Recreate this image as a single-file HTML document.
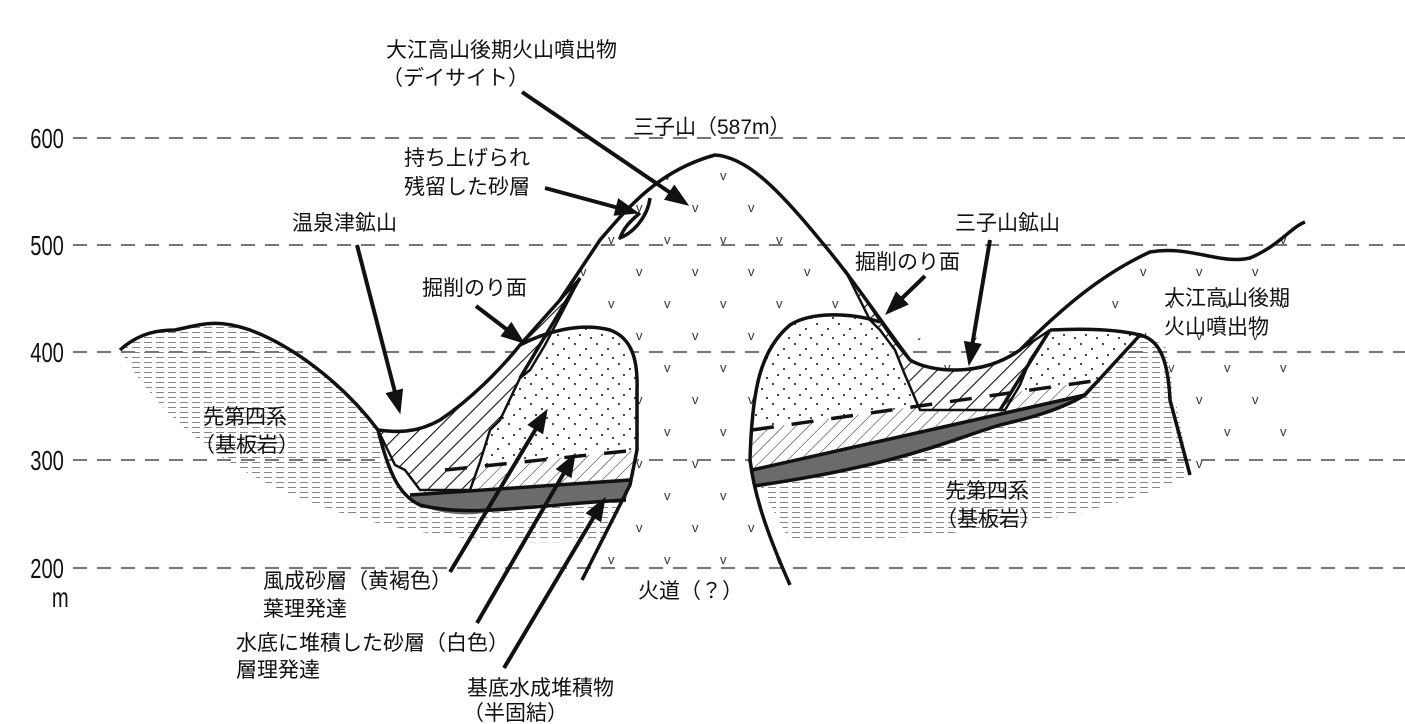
<!DOCTYPE html>
<html><head><meta charset="utf-8"><style>
html,body{margin:0;padding:0;background:#fff}
svg{display:block}
text{font-family:"Liberation Sans","Noto Sans CJK JP",sans-serif;fill:#111}
</style></head><body>
<svg width="1405" height="724" viewBox="0 0 1405 724" xmlns="http://www.w3.org/2000/svg">
<defs>
<pattern id="bas" width="12" height="5" patternUnits="userSpaceOnUse">
<line x1="0" y1="2.5" x2="8" y2="2.5" stroke="#777" stroke-width="0.9"/>
</pattern>
<pattern id="vv" width="56" height="64" patternUnits="userSpaceOnUse" x="10" y="0">
<text x="10" y="20" font-size="13" style="fill:#333">v</text>
<text x="38" y="52" font-size="13" style="fill:#333">v</text>
</pattern>
<pattern id="dots" width="22" height="20" patternUnits="userSpaceOnUse">
<circle cx="3" cy="4" r="1.1" fill="#333"/><circle cx="14" cy="9" r="1.1" fill="#333"/>
<circle cx="8" cy="15" r="1.1" fill="#333"/><circle cx="19" cy="18" r="1.1" fill="#333"/>
</pattern>
<pattern id="thin" width="9" height="9" patternUnits="userSpaceOnUse" patternTransform="rotate(45)">
<line x1="0" y1="0" x2="0" y2="9" stroke="#222" stroke-width="1"/>
</pattern>
<pattern id="thick" width="12" height="12" patternUnits="userSpaceOnUse" patternTransform="rotate(45)">
<line x1="0" y1="0" x2="0" y2="12" stroke="#111" stroke-width="2.2"/>
</pattern>
</defs>

<g stroke="#777" stroke-width="2" stroke-dasharray="14,10">
<line x1="73" y1="138" x2="1405" y2="138"/>
<line x1="73" y1="245" x2="1405" y2="245"/>
<line x1="73" y1="352" x2="1405" y2="352"/>
<line x1="73" y1="460" x2="1405" y2="460"/>
<line x1="73" y1="568" x2="1405" y2="568"/>
</g>
<g font-size="28" transform="scale(0.72,1)">
<text x="42" y="148">600</text><text x="42" y="255">500</text>
<text x="42" y="362">400</text><text x="42" y="470">300</text>
<text x="42" y="578">200</text><text x="72" y="607">m</text>
</g>

<path d="M520,345 L560,300 L600,240 C630,205 660,170 715,155 C745,157 775,185 820,240 C850,275 880,320 910,360 C930,372 980,378 1020,350 C1060,310 1100,275 1150,252 C1190,245 1220,265 1250,258 C1280,245 1290,228 1305,222 L1300,450 L1190,475 L1165,345 L1140,335 L800,340 L760,500 L790,585 L580,585 L625,480 L637,360 Z" fill="url(#vv)"/>

<path d="M120,350 C140,332 160,330 175,330 C200,325 215,318 250,330 C290,345 340,380 378,430 C388,470 398,495 420,505 C470,518 530,505 625,500 L605,540 C450,552 220,520 120,350 Z" fill="url(#bas)"/>
<path d="M752,470 L1080,395 L1140,335 L1165,345 L1190,475 C1100,520 950,540 790,542 Z" fill="url(#bas)"/>

<path d="M520,345 C545,332 580,322 610,330 C632,338 638,360 637,390 L637,450 L440,470 L480,420 Z" fill="#fff"/>
<path d="M520,345 C545,332 580,322 610,330 C632,338 638,360 637,390 L637,450 L440,470 L480,420 Z" fill="url(#dots)"/>
<path d="M440,470 L637,450 L630,480 L410,495 Z" fill="#fff"/>
<path d="M440,470 L637,450 L630,480 L410,495 Z" fill="url(#thin)"/>
<path d="M410,495 L630,480 L626,500 C560,502 520,505 490,512 C460,518 430,512 410,500 Z" fill="#6b6b6b"/>

<path d="M752,430 C752,390 760,350 790,325 C810,312 850,312 868,318 L880,320 C892,340 900,352 910,360 C930,372 980,378 1020,350 L1050,330 C1090,328 1120,330 1140,335 L1100,380 Z" fill="#fff"/>
<path d="M752,430 C752,390 760,350 790,325 C810,312 850,312 868,318 L880,320 C892,340 900,352 910,360 C930,372 980,378 1020,350 L1050,330 C1090,328 1120,330 1140,335 L1100,380 Z" fill="url(#dots)"/>
<path d="M752,430 L1100,380 L1085,395 L752,470 Z" fill="#fff"/>
<path d="M752,430 L1100,380 L1085,395 L752,470 Z" fill="url(#thin)"/>
<path d="M752,470 L1085,395 C1060,410 1030,418 1000,425 C950,440 900,465 754,486 Z" fill="#6b6b6b"/>

<path d="M378,430 C395,432 415,434 440,420 C470,400 500,370 520,345 L580,278 L545,345 L530,370 L520,378 L500,420 L490,430 L480,462 L470,490 L420,490 L405,470 L395,465 Z" fill="#fff"/>
<path d="M378,430 C395,432 415,434 440,420 C470,400 500,370 520,345 L580,278 L545,345 L530,370 L520,378 L500,420 L490,430 L480,462 L470,490 L420,490 L405,470 L395,465 Z" fill="url(#thick)" stroke="#111" stroke-width="2.5"/>
<path d="M845,270 C870,305 895,345 910,360 C930,372 980,378 1020,350 L1050,330 L1030,360 L1020,385 L1005,410 L920,410 L905,375 L895,350 L880,330 L870,320 Z" fill="#fff"/>
<path d="M845,270 C870,305 895,345 910,360 C930,372 980,378 1020,350 L1050,330 L1030,360 L1020,385 L1005,410 L920,410 L905,375 L895,350 L880,330 L870,320 Z" fill="url(#thick)" stroke="#111" stroke-width="2.5"/>

<g stroke="#111" stroke-width="3.5" stroke-dasharray="22,18" fill="none">
<path d="M445,470 L637,450"/>
<path d="M752,430 L1100,380"/>
</g>

<g fill="none" stroke="#111" stroke-width="3.5" stroke-linejoin="round">
<path d="M120,350 C140,332 160,330 175,330 C200,325 215,318 250,330 C290,345 340,380 378,430 C395,432 415,434 440,420 C470,400 500,370 520,345 L560,300 L600,240 C630,205 660,170 715,155 C745,157 775,185 820,240 C850,275 880,320 910,360 C930,372 980,378 1020,350 C1060,310 1100,275 1150,252 C1190,245 1220,265 1250,258 C1280,245 1290,228 1305,222"/>
<path d="M378,430 C388,470 398,495 420,505 C470,518 530,505 626,500"/>
<path d="M410,495 L630,480"/>
<path d="M520,345 C545,332 580,322 610,330 C632,338 638,360 637,390 L637,450 L630,485 L582,580"/>
<path d="M880,322 C850,312 810,312 790,325 C760,350 752,390 750,460 C755,500 770,540 790,585"/>
<path d="M752,470 L1085,395"/>
<path d="M754,486 C900,465 950,440 1000,425 C1030,418 1060,410 1085,395 L1140,335"/>
<path d="M1050,330 C1090,328 1120,330 1140,335 C1160,340 1168,360 1170,400 L1190,475"/>
<path d="M1050,330 L1000,410"/>
<path d="M580,278 L520,378"/>
<path d="M640,213 C625,225 622,233 620,238 C635,232 648,215 650,198"/>
</g>

<g stroke="#111" stroke-width="4" fill="none">
<line x1="522" y1="92" x2="678" y2="198"/>
<line x1="545" y1="188" x2="626" y2="210"/>
<line x1="357" y1="245" x2="397" y2="400"/>
<line x1="476" y1="306" x2="514" y2="335"/>
<line x1="990" y1="240" x2="971" y2="352"/>
<line x1="925" y1="276" x2="895" y2="305"/>
<line x1="450" y1="572" x2="540" y2="422"/>
<line x1="477" y1="623" x2="568" y2="466"/>
<line x1="504" y1="668" x2="598" y2="510"/>
</g>
<g fill="#111" stroke="#111" stroke-width="1">
<polygon points="688,205 664.8,199.4 674.3,185.4"/>
<polygon points="638,213 614.2,215.2 618.5,199"/>
<polygon points="400,413 386.3,393.4 402.5,389.2"/>
<polygon points="524,343 501.2,336 511.4,322.7"/>
<polygon points="969,365 964.5,341.5 981,344.3"/>
<polygon points="886,314 896.2,292.3 908,304.3"/>
<polygon points="547,410 542.7,433.5 528.2,424.8"/>
<polygon points="575,454 571.1,477.5 556.5,469.1"/>
<polygon points="605,498 600.8,521.5 586.4,513"/>
</g>

<g font-size="21">
<text x="386" y="57">大江高山後期火山噴出物</text>
<text x="382" y="85">（デイサイト）</text>
<text x="633" y="134">三子山（587m）</text>
<text x="404" y="165">持ち上げられ</text>
<text x="404" y="194">残留した砂層</text>
<text x="292" y="230">温泉津鉱山</text>
<text x="422" y="295">掘削のり面</text>
<text x="955" y="230">三子山鉱山</text>
<text x="855" y="269">掘削のり面</text>
<text x="1164" y="305">大江高山後期</text>
<text x="1164" y="334">火山噴出物</text>
<text x="203" y="424">先第四系</text>
<text x="194" y="452">（基板岩）</text>
<text x="945" y="498">先第四系</text>
<text x="936" y="526">（基板岩）</text>
<text x="638" y="598">火道（？）</text>
<text x="263" y="588">風成砂層（黄褐色）</text>
<text x="263" y="616">葉理発達</text>
<text x="236" y="650">水底に堆積した砂層（白色）</text>
<text x="236" y="677">層理発達</text>
<text x="467" y="695">基底水成堆積物</text>
<text x="463" y="720">（半固結）</text>
</g>
</svg>
</body></html>
